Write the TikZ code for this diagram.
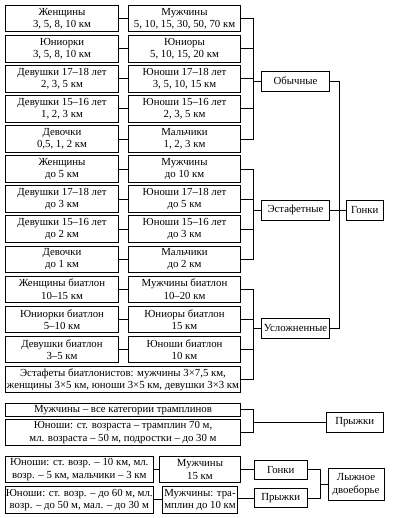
\documentclass[tikz,border=0pt]{standalone}
\usepackage{fontspec}
\setmainfont{Liberation Serif}
\newcommand\bxc[6]{\node[box,minimum width={#3-#2},minimum height={#5}] (#1) at ({(#2+#3)/2},#4) {#6};}
\begin{document}
\begin{tikzpicture}[x=1pt,y=-1pt,
  box/.style={draw,line width=0.9pt,inner sep=0pt,align=center,font=\fontsize{10.8}{12.3}\selectfont},
  conn/.style={line width=0.9pt}]
\useasboundingbox (0,0) rectangle (407,518);
% Обычные
\bxc{L1}{5.5}{118.5}{18.7}{26.5}{Женщины\\3, 5, 8, 10 км}
\bxc{R1}{128.5}{240.5}{18.7}{26.5}{Мужчины\\5, 10, 15, 30, 50, 70 км}
\bxc{L2}{5.5}{118.5}{48.77}{26.5}{Юниорки\\3, 5, 8, 10 км}
\bxc{R2}{128.5}{240.5}{48.77}{26.5}{Юниоры\\5, 10, 15, 20 км}
\bxc{L3}{5.5}{118.5}{78.84}{26.5}{Девушки 17–18 лет\\2, 3, 5 км}
\bxc{R3}{128.5}{240.5}{78.84}{26.5}{Юноши 17–18 лет\\3, 5, 10, 15 км}
\bxc{L4}{5.5}{118.5}{108.91}{26.5}{Девушки 15–16 лет\\1, 2, 3 км}
\bxc{R4}{128.5}{240.5}{108.91}{26.5}{Юноши 15–16 лет\\2, 3, 5 км}
\bxc{L5}{5.5}{118.5}{138.98}{26.5}{Девочки\\0,5, 1, 2 км}
\bxc{R5}{128.5}{240.5}{138.98}{26.5}{Мальчики\\1, 2, 3 км}
% Эстафетные
\bxc{L6}{5.5}{118.5}{169.05}{26.5}{Женщины\\до 5 км}
\bxc{R6}{128.5}{240.5}{169.05}{26.5}{Мужчины\\до 10 км}
\bxc{L7}{5.5}{118.5}{199.12}{26.5}{Девушки 17–18 лет\\до 3 км}
\bxc{R7}{128.5}{240.5}{199.12}{26.5}{Юноши 17–18 лет\\до 5 км}
\bxc{L8}{5.5}{118.5}{229.19}{26.5}{Девушки 15–16 лет\\до 2 км}
\bxc{R8}{128.5}{240.5}{229.19}{26.5}{Юноши 15–16 лет\\до 3 км}
\bxc{L9}{5.5}{118.5}{259.26}{26.5}{Девочки\\до 1 км}
\bxc{R9}{128.5}{240.5}{259.26}{26.5}{Мальчики\\до 2 км}
% Усложненные
\bxc{L10}{5.5}{118.5}{289.33}{26.5}{Женщины биатлон\\10–15 км}
\bxc{R10}{128.5}{240.5}{289.33}{26.5}{Мужчины биатлон\\10–20 км}
\bxc{L11}{5.5}{118.5}{319.4}{26.5}{Юниорки биатлон\\5–10 км}
\bxc{R11}{128.5}{240.5}{319.4}{26.5}{Юниоры биатлон\\15 км}
\bxc{L12}{5.5}{118.5}{349.47}{26.5}{Девушки биатлон\\3–5 км}
\bxc{R12}{128.5}{240.5}{349.47}{26.5}{Юноши биатлон\\10 км}
\bxc{R13}{5.5}{240.5}{379.54}{26.5}{Эстафеты биатлонистов: мужчины 3×7,5 км,\\женщины 3×5 км, юноши 3×5 км, девушки 3×3 км}
% Прыжки
\bxc{PM}{5.5}{240.5}{409.7}{13}{Мужчины – все категории трамплинов}
\bxc{PY}{5.5}{240.5}{432.6}{26.5}{Юноши: ст. возраста – трамплин 70 м,\\мл. возраста – 50 м, подростки – до 30 м}
% Двоеборье
\bxc{DY1}{5.5}{153}{469.6}{26.5}{Юноши: ст. возр. – 10 км, мл.\\возр. – 5 км, мальчики – 3 км}
\bxc{DM1}{159.5}{240.5}{469.6}{26.5}{Мужчины\\15 км}
\bxc{DY2}{5.5}{153}{499.8}{26.5}{Юноши: ст. возр. – до 60 м, мл.\\возр. – до 50 м, мал. – до 30 м}
\bxc{DM2}{162.5}{237.5}{499.8}{26.5}{Мужчины: тра-\\мплин до 10 км}
% Категории
\bxc{obych}{261.5}{329.5}{81}{20}{Обычные}
\bxc{estaf}{261.5}{329.5}{210}{20}{Эстафетные}
\bxc{uslozh}{261.5}{329.5}{328.5}{20}{Усложненные}
\bxc{gonki}{346}{383.5}{210}{20}{Гонки}
\bxc{pryg}{326}{383.5}{422}{20}{Прыжки}
\bxc{bgon}{254}{307.5}{469.6}{19}{Гонки}
\bxc{bpry}{254}{307.5}{498.2}{19}{Прыжки}
\bxc{dvo}{328}{384}{484.5}{31.5}{Лыжное\\двоеборье}
\coordinate (bx) at (253.3,0);
\coordinate (bx2) at (339.5,0);
\coordinate (bx3) at (320,0);
% row links
\foreach \i in {1,...,12} {\draw[conn] (L\i.east) -- (R\i.west);}
\draw[conn] (DY1.east) -- (DM1.west);
\draw[conn] (DY2.east) -- (DM2.west);
% Обычные bus
\draw[conn] (R1.east) -- (R1.east -| bx) -- (R5.east -| bx) -- (R5.east);
\foreach \i in {2,3,4} {\draw[conn] (R\i.east) -- (R\i.east -| bx);}
\draw[conn] (obych.west) -- (obych.west -| bx);
% Эстафетные bus
\draw[conn] (R6.east) -- (R6.east -| bx) -- (R9.east -| bx) -- (R9.east);
\foreach \i in {7,8} {\draw[conn] (R\i.east) -- (R\i.east -| bx);}
\draw[conn] (estaf.west) -- (estaf.west -| bx);
% Усложненные bus
\draw[conn] (R10.east) -- (R10.east -| bx) -- (R13.east -| bx) -- (R13.east);
\foreach \i in {11,12} {\draw[conn] (R\i.east) -- (R\i.east -| bx);}
\draw[conn] (uslozh.west) -- (uslozh.west -| bx);
% Гонки bus
\draw[conn] (obych.east) -- (obych.east -| bx2) -- (uslozh.east -| bx2) -- (uslozh.east);
\draw[conn] (estaf.east) -- (gonki.west);
% Прыжки bus
\draw[conn] (PM.east) -- (PM.east -| bx) -- (PY.east -| bx) -- (PY.east);
\draw[conn] (pryg.west) -- (pryg.west -| bx);
% Двоеборье
\draw[conn] (DM1.east) -- (bgon.west);
\draw[conn] (bpry.west) -- (bpry.west -| DM2.east);
\draw[conn] (bgon.east) -- (bgon.east -| bx3) -- (bpry.east -| bx3) -- (bpry.east);
\draw[conn] (dvo.west) -- (dvo.west -| bx3);
\end{tikzpicture}
\end{document}
